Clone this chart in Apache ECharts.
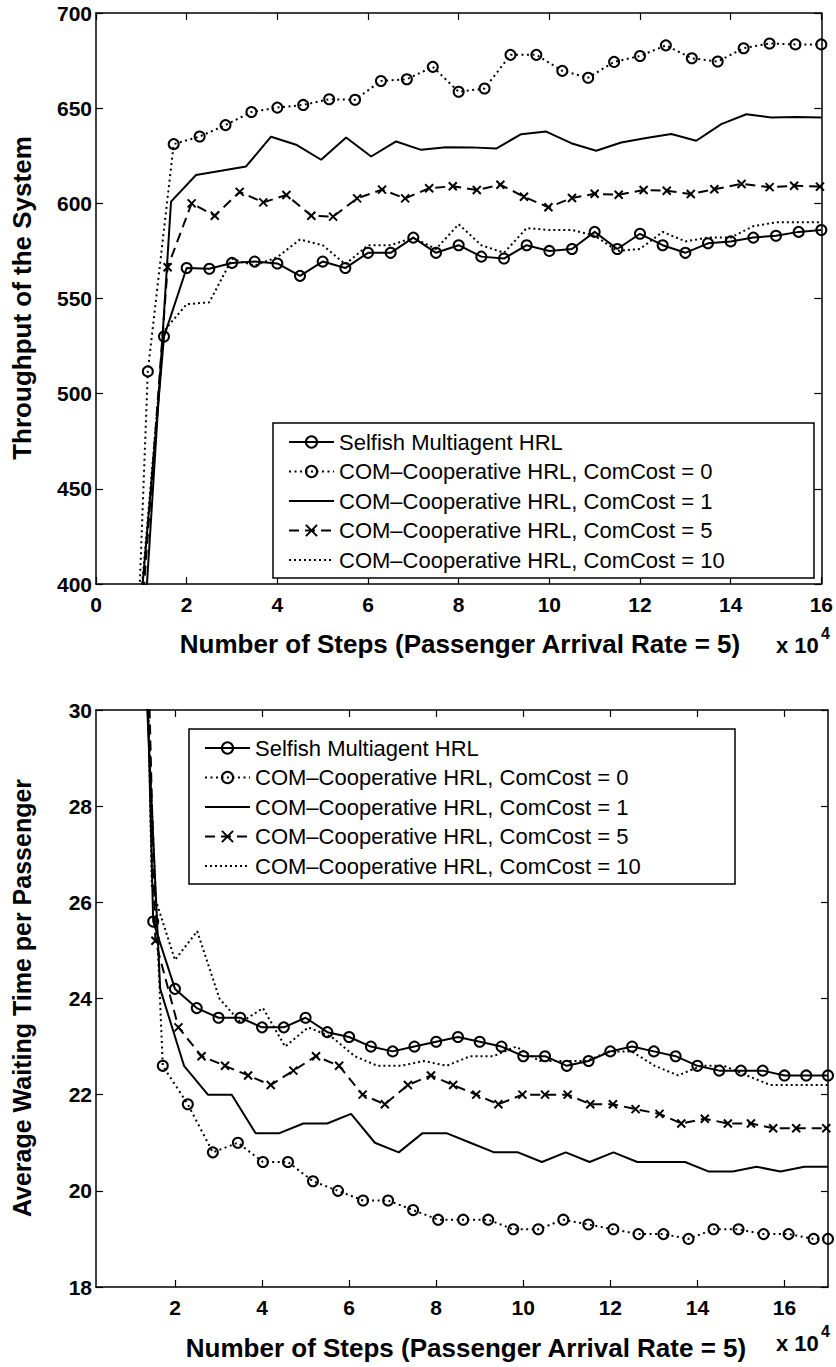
<!DOCTYPE html>
<html>
<head>
<meta charset="utf-8">
<script src="https://cdn.jsdelivr.net/npm/echarts@6/dist/echarts.min.js"></script>
<style>
html,body{margin:0;padding:0;background:#fff;}
#c{width:836px;height:1367px;}
</style>
</head>
<body>
<div id="c"></div>
<script>
// ---------- names ----------
const seriesNames = [
  'Selfish Multiagent HRL',
  'COM\u2013Cooperative HRL, ComCost = 0',
  'COM\u2013Cooperative HRL, ComCost = 1',
  'COM\u2013Cooperative HRL, ComCost = 5',
  'COM\u2013Cooperative HRL, ComCost = 10'
];
const xTitle = 'Number of Steps (Passenger Arrival Rate = 5)';
const topYTitle = 'Throughput of the System';
const botYTitle = 'Average Waiting Time per Passenger';
const botXTicks = [2, 4, 6, 8, 10, 12, 14, 16];

// ---------- top chart: throughput (x in 10^4 steps) ----------
const tpSelfishX = [1.0,1.5,2.0,2.5,3.0,3.5,4.0,4.5,5.0,5.5,6.0,6.5,7.0,7.5,8.0,8.5,9.0,9.5,10.0,10.5,11.0,11.5,12.0,12.5,13.0,13.5,14.0,14.5,15.0,15.5,16.0];
const tpSelfishY = [392,530,566,565.6,568.7,569.4,568.4,561.9,569.4,566,574,574,582,574,578,572,571,578,575,576,585,576,584,578,574,579,580,582,583,585,586];

const tpC0X = [0.571,1.143,1.714,2.286,2.857,3.429,4.0,4.571,5.143,5.714,6.286,6.857,7.429,8.0,8.571,9.143,9.714,10.286,10.857,11.429,12.0,12.571,13.143,13.714,14.286,14.857,15.429,16.0];
const tpC0Y = [150,511.7,631.1,635.1,641.1,648.0,650.3,651.7,654.7,654.4,664.3,665.2,671.7,658.6,660.3,678.0,678.0,669.6,666.0,674.3,677.4,683.0,676.2,674.5,681.5,684.0,683.5,683.5];

const tpC1X = [1.103,1.655,2.207,2.759,3.310,3.862,4.414,4.966,5.517,6.069,6.621,7.172,7.724,8.276,8.828,9.379,9.931,10.483,11.034,11.586,12.138,12.690,13.241,13.793,14.345,14.897,15.448,16.0];
const tpC1Y = [392,600.9,614.9,617.1,619.4,635.0,630.8,622.9,634.6,624.6,632.5,628.1,629.5,629.4,628.8,636.3,637.7,631.6,627.6,632.0,634.3,636.4,632.9,641.6,646.8,645.1,645.3,645.1];

const tpC5X = [1.05,1.58,2.11,2.62,3.17,3.69,4.2,4.75,5.23,5.76,6.31,6.82,7.35,7.87,8.4,8.92,9.44,9.98,10.5,11.0,11.53,12.08,12.59,13.12,13.64,14.24,14.86,15.4,15.97];
const tpC5Y = [396,566.4,600,593.5,606,600.5,604.4,593.5,593,602.6,607.2,602.6,607.9,609,607,609.8,603.5,597.9,602.8,605,604.5,607,606.6,604.9,607.4,610.2,608.5,609.2,608.8];

const tpC10X = [1.0,1.5,2.0,2.5,3.0,3.5,4.0,4.5,5.0,5.5,6.0,6.5,7.0,7.5,8.0,8.5,9.0,9.5,10.0,10.5,11.0,11.5,12.0,12.5,13.0,13.5,14.0,14.5,15.0,15.5,16.0];
const tpC10Y = [395,533,547,548,570.8,567.3,571.7,581,578,568,578,578,582,576,589,578,574,587,586,586,583,575,576,585,580,582,582,588,590,590,590];

// ---------- bottom chart: average waiting time ----------
const wtSelfishX = [1.0,1.5,2.0,2.5,3.0,3.5,4.0,4.5,5.0,5.5,6.0,6.5,7.0,7.5,8.0,8.5,9.0,9.5,10.0,10.5,11.0,11.5,12.0,12.5,13.0,13.5,14.0,14.5,15.0,15.5,16.0,16.5,17.0];
const wtSelfishY = [44,25.6,24.2,23.8,23.6,23.6,23.4,23.4,23.6,23.3,23.2,23.0,22.9,23.0,23.1,23.2,23.1,23.0,22.8,22.8,22.6,22.7,22.9,23.0,22.9,22.8,22.6,22.5,22.5,22.5,22.4,22.4,22.4];

const wtC0X = [1.145,1.72,2.295,2.87,3.445,4.02,4.595,5.17,5.745,6.32,6.895,7.47,8.045,8.62,9.195,9.77,10.345,10.92,11.495,12.07,12.645,13.22,13.795,14.37,14.945,15.52,16.095,16.67,17.0];
const wtC0Y = [35,22.6,21.8,20.8,21.0,20.6,20.6,20.2,20.0,19.8,19.8,19.6,19.4,19.4,19.4,19.2,19.2,19.4,19.3,19.2,19.1,19.1,19.0,19.2,19.2,19.1,19.1,19.0,19.0];

const wtC1X = [1.11,1.66,2.208,2.756,3.304,3.852,4.4,4.948,5.496,6.044,6.592,7.14,7.688,8.236,8.784,9.332,9.88,10.428,10.976,11.524,12.072,12.62,13.168,13.716,14.264,14.812,15.36,15.908,16.456,17.0];
const wtC1Y = [35,24.2,22.6,22.0,22.0,21.2,21.2,21.4,21.4,21.6,21.0,20.8,21.2,21.2,21.0,20.8,20.8,20.6,20.8,20.6,20.8,20.6,20.6,20.6,20.4,20.4,20.5,20.4,20.5,20.5];

const wtC5X = [1.0,1.55,2.08,2.61,3.15,3.68,4.2,4.72,5.24,5.77,6.31,6.82,7.35,7.88,8.39,8.92,9.43,9.98,10.5,11.02,11.54,12.06,12.58,13.13,13.63,14.17,14.7,15.23,15.74,16.27,16.96];
const wtC5Y = [45,25.2,23.4,22.8,22.6,22.4,22.2,22.5,22.8,22.6,22.0,21.8,22.2,22.4,22.2,22.0,21.8,22.0,22.0,22.0,21.8,21.8,21.7,21.6,21.4,21.5,21.4,21.4,21.3,21.3,21.3];

const wtC10X = [0.93,1.47,2.0,2.51,3.02,3.51,4.02,4.53,5.06,5.6,6.13,6.65,7.19,7.72,8.24,8.78,9.31,9.84,10.37,10.9,11.45,11.97,12.49,13.02,13.56,14.08,14.61,15.13,15.68,16.2,16.73,17.0];
const wtC10Y = [51,26.3,24.8,25.4,24.0,23.5,23.8,23.0,23.4,23.2,22.8,22.6,22.6,22.7,22.6,22.8,22.8,23.0,22.7,22.7,22.7,22.9,22.9,22.6,22.4,22.6,22.6,22.4,22.2,22.2,22.2,22.2];

// ---------- styling ----------
const FONT = '"Liberation Sans", Arial, Helvetica, sans-serif';
const pair = (xs, ys) => xs.map((x, i) => [x, ys[i]]);
const styles = [
  {line: 'solid',  symbol: 'circle', size: 10},
  {line: [2, 3.5], symbol: 'circle', size: 10},
  {line: 'solid',  symbol: 'none',   size: 0},
  {line: [10, 6],  symbol: 'path://M0,0L10,10M10,0L0,10', size: 8},
  {line: [2, 3],   symbol: 'none',   size: 0}
];
function mkSeries(idx, xs, ys, g) {
  const s = styles[idx];
  const hasSym = s.symbol !== 'none';
  return {
    type: 'line', name: seriesNames[idx], xAxisIndex: g * 2, yAxisIndex: g * 2,
    data: pair(xs, ys), clip: true, animation: false, silent: true,
    symbol: s.symbol, symbolSize: s.size, showSymbol: hasSym, showAllSymbol: true,
    lineStyle: {color: '#000', width: 2, type: s.line},
    itemStyle: hasSym
      ? {color: 'rgba(0,0,0,0)', borderColor: '#000', borderWidth: 2}
      : {color: 'rgba(0,0,0,0)', borderColor: 'rgba(0,0,0,0)', borderWidth: 0, opacity: 0},
    emphasis: {disabled: true}, z: 3 + idx
  };
}

const axisLineStyle = {show: true, onZero: false, lineStyle: {color: '#000', width: 1.5}};
const tickStyle = {show: true, inside: true, length: 7, lineStyle: {color: '#000', width: 1.2}};
const labelStyle = {color: '#000', fontFamily: FONT, fontWeight: 'bold', fontSize: 21};

function xAxes(g, min, max, interval, custom) {
  const base = {type: 'value', gridIndex: g, min: min, max: max, splitLine: {show: false}, axisLine: axisLineStyle};
  const main = Object.assign({}, base, {
    position: 'bottom',
    axisTick: Object.assign({}, tickStyle),
    axisLabel: Object.assign({margin: 10}, labelStyle)
  });
  const mirror = Object.assign({}, base, {
    position: 'top',
    axisTick: Object.assign({}, tickStyle),
    axisLabel: {show: false}
  });
  if (custom) {
    main.axisTick.customValues = custom; main.axisLabel.customValues = custom;
    mirror.axisTick.customValues = custom;
  } else {
    main.interval = interval; mirror.interval = interval;
  }
  return [main, mirror];
}
function yAxes(g, min, max, interval) {
  const base = {type: 'value', gridIndex: g, min: min, max: max, interval: interval, splitLine: {show: false}, axisLine: axisLineStyle};
  return [
    Object.assign({}, base, {position: 'left', axisTick: tickStyle, axisLabel: Object.assign({margin: 4}, labelStyle)}),
    Object.assign({}, base, {position: 'right', axisTick: tickStyle, axisLabel: {show: false}})
  ];
}

const legendText = {color: '#000', fontFamily: FONT, fontSize: 22, lineHeight: 20};
function mkLegend(left, top) {
  return {
    data: seriesNames, orient: 'vertical', left: left, top: top,
    itemWidth: 45, itemHeight: 14, itemGap: 7.5, padding: 0, z: 40,
    textStyle: legendText, selectedMode: false, inactiveColor: '#000'
  };
}

const titleFont = 'bold 26px ' + FONT;
const chart = echarts.init(document.getElementById('c'), null, {renderer: 'svg'});
chart.setOption({
  backgroundColor: '#fff',
  animation: false,
  grid: [
    {left: 96, top: 13, width: 726, height: 571, containLabel: false},
    {left: 96, top: 710, width: 732, height: 577, containLabel: false}
  ],
  xAxis: [].concat(xAxes(0, 0, 16, 2, null), xAxes(1, 0.186, 17, null, botXTicks)),
  yAxis: [].concat(yAxes(0, 400, 700, 50), yAxes(1, 18, 30, 2)),
  legend: [mkLegend(288, 431), mkLegend(204, 737)],
  series: [
    mkSeries(0, tpSelfishX, tpSelfishY, 0),
    mkSeries(1, tpC0X, tpC0Y, 0),
    mkSeries(2, tpC1X, tpC1Y, 0),
    mkSeries(3, tpC5X, tpC5Y, 0),
    mkSeries(4, tpC10X, tpC10Y, 0),
    mkSeries(0, wtSelfishX, wtSelfishY, 1),
    mkSeries(1, wtC0X, wtC0Y, 1),
    mkSeries(2, wtC1X, wtC1Y, 1),
    mkSeries(3, wtC5X, wtC5Y, 1),
    mkSeries(4, wtC10X, wtC10Y, 1)
  ],
  graphic: [
    {type: 'rect', shape: {x: 273, y: 423, width: 541, height: 155}, style: {fill: '#fff', stroke: '#000', lineWidth: 1.5}, z: 20, silent: true},
    {type: 'rect', shape: {x: 189, y: 729, width: 546, height: 155}, style: {fill: '#fff', stroke: '#000', lineWidth: 1.5}, z: 20, silent: true},
    {type: 'text', x: 460, y: 644, style: {text: xTitle, font: titleFont, fill: '#000', align: 'center', verticalAlign: 'middle'}, z: 30},
    {type: 'text', x: 776, y: 645, style: {text: 'x 10', font: 'bold 22px ' + FONT, fill: '#000', align: 'left', verticalAlign: 'middle'}, z: 30},
    {type: 'text', x: 821, y: 633, style: {text: '4', font: 'bold 16px ' + FONT, fill: '#000', align: 'left', verticalAlign: 'middle'}, z: 30},
    {type: 'text', x: 466, y: 1348, style: {text: xTitle, font: titleFont, fill: '#000', align: 'center', verticalAlign: 'middle'}, z: 30},
    {type: 'text', x: 776, y: 1343, style: {text: 'x 10', font: 'bold 22px ' + FONT, fill: '#000', align: 'left', verticalAlign: 'middle'}, z: 30},
    {type: 'text', x: 821, y: 1331, style: {text: '4', font: 'bold 16px ' + FONT, fill: '#000', align: 'left', verticalAlign: 'middle'}, z: 30},
    {type: 'text', x: 22, y: 298, rotation: Math.PI / 2, style: {text: topYTitle, font: 'bold 26px ' + FONT, fill: '#000', align: 'center', verticalAlign: 'middle'}, z: 30},
    {type: 'text', x: 22, y: 998, rotation: Math.PI / 2, style: {text: botYTitle, font: 'bold 25px ' + FONT, fill: '#000', align: 'center', verticalAlign: 'middle'}, z: 30}
  ]
});
</script>
</body>
</html>
